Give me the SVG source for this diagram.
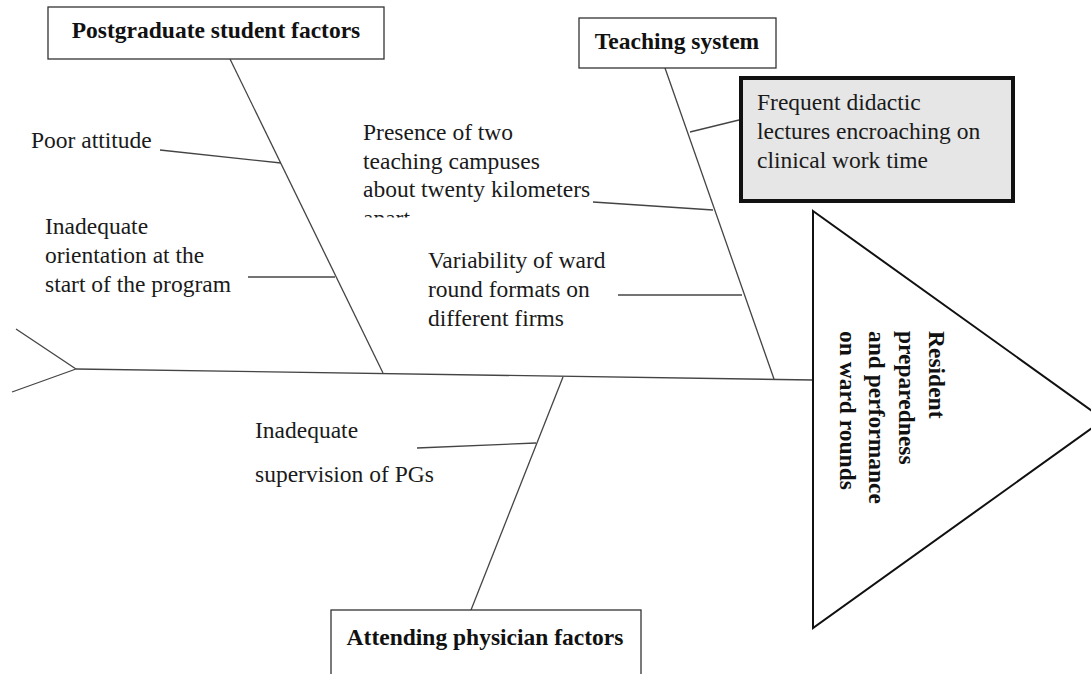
<svg xmlns="http://www.w3.org/2000/svg" width="1091" height="674" viewBox="0 0 1091 674">
<style>
.t{font-family:"Liberation Serif","Times New Roman",serif;font-size:23.5px;fill:#1a1a1a}
.b{font-family:"Liberation Serif","Times New Roman",serif;font-size:23.5px;font-weight:bold;fill:#111}
.box{fill:#fff;stroke:#333;stroke-width:1.3}
.ln{stroke:#444;stroke-width:1.3;fill:none}
</style>
<defs>
<clipPath id="clipApart"><rect x="300" y="200" width="200" height="17.5"/></clipPath>
</defs>
<g id="connectors">
<path class="ln" d="M76 369 L813 380"/>
<path class="ln" d="M76 369 L16 329 M76 369 L12 392"/>
<path class="ln" d="M230 59 L383 373"/>
<path class="ln" d="M160 150 L281 163"/>
<path class="ln" d="M248 277 L335 277"/>
<path class="ln" d="M665 68 L774 379"/>
<path class="ln" d="M690 132 L739 120"/>
<path class="ln" d="M593 202 L713 210"/>
<path class="ln" d="M618 295 L742 295"/>
<path class="ln" d="M471 610 L563 377"/>
<path class="ln" d="M417 448 L536 443"/>
</g>
<g id="node-postgraduate">
<rect class="box" x="48" y="7" width="336" height="52"/>
<text class="b" x="216" y="38" text-anchor="middle">Postgraduate student factors</text>
</g>
<g id="node-teaching">
<rect class="box" x="579" y="18" width="197" height="50"/>
<text class="b" x="677" y="49" text-anchor="middle">Teaching system</text>
</g>
<g id="node-attending">
<rect class="box" x="331" y="610" width="310" height="70"/>
<text class="b" x="485" y="645" text-anchor="middle">Attending physician factors</text>
</g>
<g id="node-poor-attitude">
<text class="t" x="31" y="148">Poor attitude</text>
</g>
<g id="node-orientation">
<text class="t" x="45" y="234">Inadequate</text>
<text class="t" x="45" y="263">orientation at the</text>
<text class="t" x="45" y="292">start of the program</text>
</g>
<g id="node-campuses">
<text class="t" x="363" y="140">Presence of two</text>
<text class="t" x="363" y="169">teaching campuses</text>
<text class="t" x="363" y="197">about twenty kilometers</text>
<text class="t" x="363" y="226" clip-path="url(#clipApart)">apart</text>
</g>
<g id="node-variability">
<text class="t" x="428" y="268">Variability of ward</text>
<text class="t" x="428" y="297">round formats on</text>
<text class="t" x="428" y="326">different firms</text>
</g>
<g id="node-lectures">
<rect x="741" y="78" width="272" height="123" fill="#e6e6e6" stroke="#111" stroke-width="4"/>
<text class="t" x="757" y="110">Frequent didactic</text>
<text class="t" x="757" y="139">lectures encroaching on</text>
<text class="t" x="757" y="168">clinical work time</text>
</g>
<g id="node-supervision">
<text class="t" x="255" y="438">Inadequate</text>
<text class="t" x="255" y="482">supervision of PGs</text>
</g>
<g id="node-effect">
<polygon points="813,211 1104,419.5 813,628" fill="#fff" stroke="#111" stroke-width="2"/>
<g transform="translate(929,331) rotate(90)"><text class="b" x="0" y="0">Resident</text></g>
<g transform="translate(899,331) rotate(90)"><text class="b" x="0" y="0">preparedness</text></g>
<g transform="translate(869,331) rotate(90)"><text class="b" x="0" y="0">and performance</text></g>
<g transform="translate(840,331) rotate(90)"><text class="b" x="0" y="0">on ward rounds</text></g>
</g>
</svg>
